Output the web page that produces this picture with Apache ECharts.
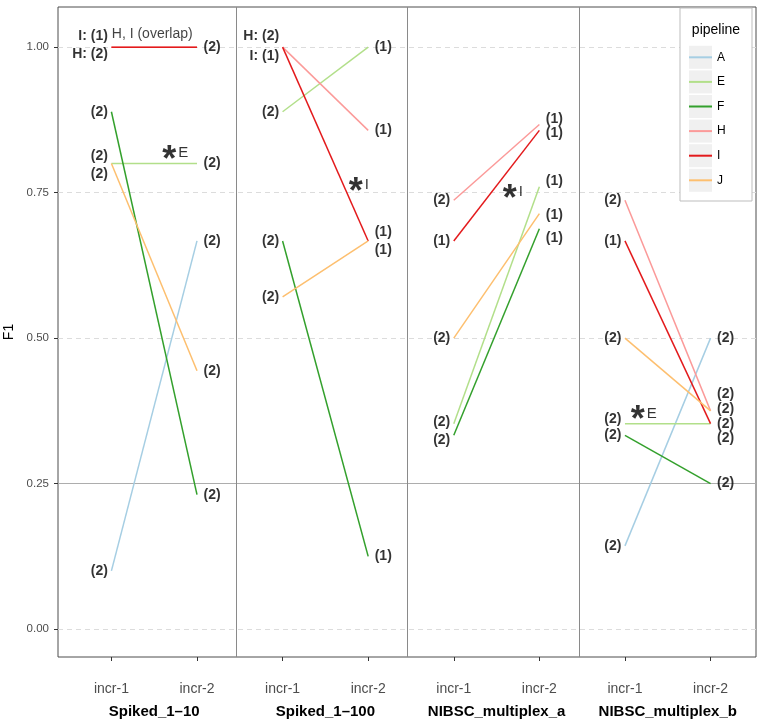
<!DOCTYPE html>
<html>
<head>
<meta charset="utf-8">
<script src="https://cdn.jsdelivr.net/npm/echarts@6/dist/echarts.min.js"></script>
<style>html,body{margin:0;padding:0;background:#fff}#c{width:766px;height:719px}</style>
</head>
<body>
<div id="c"></div>
<script>
// ---------------- data ----------------
const groups = ['Spiked_1\u201310', 'Spiked_1\u2013100', 'NIBSC_multiplex_a', 'NIBSC_multiplex_b'];
const increments = ['incr-1', 'incr-2'];
const pipelines = ['A', 'E', 'F', 'H', 'I', 'J'];
const yTicks = [0, 0.25, 0.5, 0.75, 1];

// F1 per pipeline: [g1 incr-1, g1 incr-2, g2 incr-1, g2 incr-2, ...]
const f1A = [0.100, 0.667, null, null, null, null, 0.143, 0.500];
const f1E = [0.800, 0.800, 0.889, 1.000, 0.353, 0.760, 0.353, 0.353];
const f1F = [0.889, 0.231, 0.667, 0.125, 0.333, 0.688, 0.333, 0.250];
const f1H = [1.000, 1.000, 1.000, 0.857, 0.737, 0.867, 0.737, 0.375];
const f1I = [1.000, 1.000, 1.000, 0.667, 0.667, 0.857, 0.667, 0.353];
const f1J = [0.800, 0.444, 0.571, 0.667, 0.500, 0.714, 0.500, 0.375];

// number of samples behind each point
const nA = [2, 2, null, null, null, null, 2, 2];
const nE = [2, 2, 2, 1, 2, 1, 2, 2];
const nF = [2, 2, 2, 1, 2, 1, 2, 2];
const nH = [2, 2, 2, 1, 2, 1, 2, 2];
const nI = [1, 2, 1, 1, 1, 1, 1, 2];
const nJ = [2, 2, 2, 1, 2, 1, 2, 2];

// annotations: [x position (1..8), F1, text]
const noteOverlap = [1.477, 1.023, 'H, I (overlap)'];
const starNotes = [[1.746, 0.8175, 'E'], [3.89, 0.763, 'I'], [5.69, 0.7515, 'I'], [7.22, 0.3704, 'E']];

// ---------------- styles ----------------
const colors = { A: '#a6cee3', E: '#b2df8a', F: '#33a02c', H: '#fb9a99', I: '#e31a1c', J: '#fdbf6f' };
const FONT = '"Liberation Sans", Arial, Helvetica, sans-serif';
// vertical nudges (px) for count labels, keyed pipeline-index
const nudge = {
  'E-0': -7, 'J-0': 11, 'I-0': -11, 'H-0': 7,
  'H-2': -11, 'I-2': 9,
  'I-3': -9, 'J-3': 9,
  'E-4': -2, 'F-4': 5,
  'H-5': -5, 'I-5': 3, 'E-5': -6, 'J-5': 2, 'F-5': 9,
  'E-6': -5,
  'H-7': -17, 'J-7': -2, 'E-7': 14
};
const dividerX = [2.465, 4.465, 6.47];

const f1 = { A: f1A, E: f1E, F: f1F, H: f1H, I: f1I, J: f1J };
const counts = { A: nA, E: nE, F: nF, H: nH, I: nI, J: nJ };

const series = [];
// gridlines & dividers
series.push({
  type: 'line', name: '_guides', data: [], z: 1, silent: true,
  markLine: {
    silent: true, z: 1, symbol: ['none', 'none'], label: { show: false },
    data: yTicks.map(v => ({
      yAxis: v,
      lineStyle: v === 0.25 ? { color: '#adadad', width: 1, type: 'solid' } : { color: '#dcdcdc', width: 1, type: [5, 4] }
    })).concat(dividerX.map(x => ({ xAxis: x, lineStyle: { color: '#8a8a8a', width: 1, type: 'solid' } })))
  }
});

// line segments
pipelines.forEach(p => {
  for (let g = 0; g < groups.length; g++) {
    const a = f1[p][2 * g], b = f1[p][2 * g + 1];
    if (a == null || b == null) continue;
    series.push({
      type: 'line', name: p, color: colors[p], symbol: 'none', z: 2, silent: true,
      lineStyle: { color: colors[p], width: 1.5 },
      data: [[2 * g + 1, a], [2 * g + 2, b]]
    });
  }
});

// count labels
const leftLabels = [], rightLabels = [];
for (let idx = 0; idx < 8; idx++) {
  const hiOverlap = f1H[idx] != null && f1H[idx] === f1I[idx];
  pipelines.forEach(p => {
    const v = f1[p][idx];
    if (v == null) return;
    let txt = '(' + counts[p][idx] + ')';
    if (hiOverlap && (p === 'H' || p === 'I')) {
      if (nH[idx] === nI[idx]) { if (p === 'H') return; }
      else txt = p + ': ' + txt;
    }
    const item = { value: [idx + 1, v], label: { formatter: txt, offset: [0, nudge[p + '-' + idx] || 0] } };
    (idx % 2 === 0 ? leftLabels : rightLabels).push(item);
  });
}
const cntLabel = { show: true, color: '#000', fontWeight: 'bold', fontSize: 14, fontFamily: FONT };
series.push({
  type: 'scatter', name: '_cl', symbolSize: 1, itemStyle: { color: 'transparent' }, silent: true, z: 5,
  label: Object.assign({ position: 'left', distance: 3 }, cntLabel), data: leftLabels
});
series.push({
  type: 'scatter', name: '_cr', symbolSize: 1, itemStyle: { color: 'transparent' }, silent: true, z: 5,
  label: Object.assign({ position: 'right', distance: 6 }, cntLabel), data: rightLabels
});
// text notes
series.push({
  type: 'scatter', name: '_notes', symbolSize: 1, itemStyle: { color: 'transparent' }, silent: true, z: 5,
  label: { show: true, position: 'inside', color: '#111', fontSize: 14, fontFamily: FONT, formatter: noteOverlap[2] },
  data: [[noteOverlap[0], noteOverlap[1]]]
});
series.push({
  type: 'scatter', name: '_stars', symbolSize: 1, itemStyle: { color: 'transparent' }, silent: true, z: 5,
  label: {
    show: true, position: 'inside', fontFamily: FONT,
    formatter: p => '{s|*}{t|' + p.data[2] + '}',
    rich: {
      s: { fontSize: 36, fontWeight: 'bold', color: '#000', padding: [16, 2, 0, 0] },
      t: { fontSize: 15, color: '#000' }
    }
  },
  data: starNotes
});

const chart = echarts.init(document.getElementById('c'), null, { renderer: 'canvas' });
const LG = { left: 680, top: 8, w: 72, h: 193, padTop: 37, row: 24.6, keyX: 689, keyW: 23 };
const graphics = [
  { type: 'rect', z: 3, shape: { x: LG.left, y: LG.top, width: LG.w, height: LG.h }, style: { fill: '#fff', stroke: '#bdbdbd', lineWidth: 1 } },
  { type: 'text', z: 3, x: LG.left + LG.w / 2, y: 30, style: { text: 'pipeline', fontSize: 14, fontFamily: FONT, fill: '#000', align: 'center', verticalAlign: 'middle' } }
];
pipelines.forEach((p, i) => {
  const cy = LG.top + LG.padTop + LG.row / 2 + i * LG.row;
  graphics.push({ type: 'rect', z: 3, shape: { x: LG.keyX, y: cy - 11.5, width: LG.keyW, height: 23 }, style: { fill: '#f0f0f0' } });
});

chart.setOption({
  animation: false,
  backgroundColor: '#fff',
  textStyle: { fontFamily: FONT },
  grid: { left: 58, right: 10, top: 7, bottom: 62, show: true, borderColor: '#4d4d4d', borderWidth: 1, backgroundColor: 'transparent',
    containLabel: false, outerBoundsMode: 'none' },
  legend: {
    data: pipelines, orient: 'vertical', left: LG.left, top: LG.top, padding: [LG.padTop, 20, 8, LG.keyX - LG.left],
    itemWidth: LG.keyW, itemHeight: 2, itemGap: 0, icon: 'rect', selectedMode: false, z: 6,
    textStyle: { fontSize: 12, lineHeight: LG.row, color: '#000', fontFamily: FONT }
  },
  graphic: graphics,
  xAxis: [
    {
      type: 'value', min: 0.376, max: 8.531, position: 'bottom',
      axisLine: { show: false, onZero: false }, splitLine: { show: false },
      axisTick: { show: true, customValues: [1, 2, 3, 4, 5, 6, 7, 8], length: 4, lineStyle: { color: '#333' } },
      axisLabel: { show: true, customValues: [1, 2, 3, 4, 5, 6, 7, 8], margin: 25, fontSize: 14, color: '#4d4d4d', fontFamily: FONT,
        formatter: v => increments[(Math.round(v) - 1) % 2] }
    },
    {
      type: 'value', min: 0.376, max: 8.531, position: 'bottom', offset: 0,
      axisLine: { show: false, onZero: false }, splitLine: { show: false }, axisTick: { show: false },
      axisLabel: { show: true, customValues: [1.5, 3.5, 5.5, 7.5], margin: 47, fontSize: 15, fontWeight: 'bold', color: '#000', fontFamily: FONT,
        formatter: v => groups[Math.round(v - 1.5) / 2] }
    }
  ],
  yAxis: {
    type: 'value', min: -0.048, max: 1.069,
    name: 'F1', nameLocation: 'middle', nameGap: 38, nameRotate: 90,
    nameTextStyle: { fontSize: 14, color: '#000', fontFamily: FONT },
    axisLine: { show: false, onZero: false }, splitLine: { show: false },
    axisTick: { show: true, customValues: yTicks, length: 4, lineStyle: { color: '#333' } },
    axisLabel: { show: true, customValues: yTicks, margin: 9, fontSize: 11.5, color: '#4d4d4d', fontFamily: FONT, formatter: v => v.toFixed(2) }
  },
  series: series
});
</script>
</body>
</html>
